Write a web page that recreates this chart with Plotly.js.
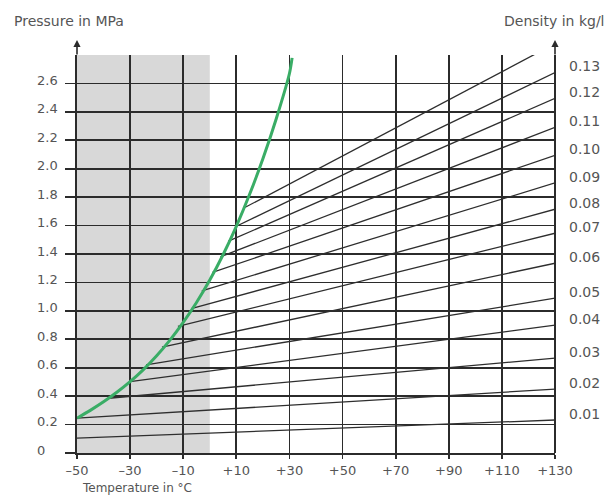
<!DOCTYPE html>
<html>
<head>
<meta charset="utf-8">
<script src="https://cdn.plot.ly/plotly-3.0.1.min.js"></script>
<style>html,body{margin:0;padding:0;background:#fff;}#chart{width:613px;height:496px;}</style>
</head>
<body>
<div id="chart"></div>
<script>
// Saturation (vapour pressure) curve
const curveT = [-50, -45, -40, -35, -30, -25, -20, -15, -10, -5, 0, 5, 10, 15, 20, 25, 30, 31];
const curveP = [0.245, 0.30, 0.36, 0.427, 0.502, 0.587, 0.684, 0.794, 0.919, 1.059, 1.217, 1.395, 1.595, 1.82, 2.07, 2.35, 2.67, 2.78];

// Isochores (density lines): start point and pressure at +130 °C
const densities = [0.01, 0.02, 0.03, 0.04, 0.05, 0.06, 0.07, 0.08, 0.09, 0.10, 0.11, 0.12, 0.13, 0.14];
const startT = [-50, -50, -38, -30, -24, -18, -12, -7, -3, 1, 4, 7, 10, 13];
const startP = [0.105, 0.245, 0.385, 0.502, 0.62, 0.745, 0.89, 1.015, 1.14, 1.27, 1.38, 1.49, 1.595, 1.725];
const endT = 130;
const endP = [0.232, 0.45, 0.668, 0.90, 1.089, 1.335, 1.546, 1.715, 1.90, 2.094, 2.291, 2.495, 2.677, 2.88];
const labelledDensities = 13; // 0.14 leaves the chart at the top

// Axes
const xTicks = [-50, -30, -10, 10, 30, 50, 70, 90, 110, 130];
const xTickText = ['–50', '–30', '–10', '+10', '+30', '+50', '+70', '+90', '+110', '+130'];
const yTicks = [0, 0.2, 0.4, 0.6, 0.8, 1.0, 1.2, 1.4, 1.6, 1.8, 2.0, 2.2, 2.4, 2.6];
const yTickText = ['0', '0.2', '0.4', '0.6', '0.8', '1.0', '1.2', '1.4', '1.6', '1.8', '2.0', '2.2', '2.4', '2.6'];
const shadeRange = [-50, 0];

const GRID = '#2b2b2b';
const TXT = '#555';
const FONT = 'DejaVu Sans, Arial, sans-serif';

const traces = [];
densities.forEach((d, i) => {
  traces.push({
    x: [startT[i], endT], y: [startP[i], endP[i]],
    mode: 'lines', type: 'scatter', hoverinfo: 'skip',
    line: {color: '#2e2e2e', width: 1.3}
  });
});
traces.push({
  x: curveT, y: curveP, mode: 'lines', type: 'scatter', hoverinfo: 'skip',
  line: {color: '#3aad66', width: 3, shape: 'spline', smoothing: 0.8}
});

const annotations = [];
yTicks.forEach((v, i) => {
  annotations.push({
    xref: 'paper', x: 0, xshift: -42, xanchor: 'left',
    yref: 'y', y: v, yshift: 3, yanchor: 'middle',
    text: yTickText[i], showarrow: false,
    font: {family: FONT, size: 13, color: TXT}
  });
});
for (let i = 0; i < labelledDensities; i++) {
  annotations.push({
    xref: 'paper', x: 1, xshift: 12, xanchor: 'left',
    yref: 'y', y: endP[i], yshift: 6, yanchor: 'middle',
    text: densities[i].toFixed(2), showarrow: false,
    font: {family: FONT, size: 14, color: TXT}
  });
}
annotations.push({
  xref: 'paper', x: 0, xshift: -65, xanchor: 'left',
  yref: 'paper', y: 1, yshift: 34, yanchor: 'middle',
  text: 'Pressure in MPa', showarrow: false,
  font: {family: FONT, size: 14, color: TXT}
});
annotations.push({
  xref: 'paper', x: 1, xshift: -53, xanchor: 'left',
  yref: 'paper', y: 1, yshift: 34, yanchor: 'middle',
  text: 'Density in kg/l', showarrow: false,
  font: {family: FONT, size: 14, color: TXT}
});
annotations.push({
  xref: 'paper', x: 0, xshift: 3, xanchor: 'left',
  yref: 'paper', y: 0, yshift: -35, yanchor: 'middle',
  text: 'Temperature in °C', showarrow: false,
  font: {family: FONT, size: 12, color: TXT}
});
// axis arrows
[0, 1].forEach(px => {
  annotations.push({
    xref: 'paper', x: px, yref: 'paper', y: 1.038,
    ax: 0, ay: 16, text: '', showarrow: true,
    arrowhead: 2, arrowsize: 0.9, arrowwidth: 1.6, arrowcolor: GRID
  });
});

const layout = {
  width: 613, height: 496,
  margin: {l: 77, r: 58, t: 55, b: 43, pad: 0},
  paper_bgcolor: '#fff', plot_bgcolor: '#fff',
  showlegend: false,
  xaxis: {
    range: [-50, 130], tickvals: xTicks, ticktext: xTickText,
    showgrid: true, gridcolor: GRID, gridwidth: 1.7,
    showline: true, linecolor: GRID, linewidth: 2,
    ticks: 'outside', ticklen: 4, tickwidth: 1.7, tickcolor: GRID,
    tickfont: {family: FONT, size: 13, color: TXT},
    zeroline: false, fixedrange: true
  },
  yaxis: {
    range: [0, 2.8], tickvals: yTicks,
    showgrid: true, gridcolor: GRID, gridwidth: 1.7,
    showline: true, linecolor: GRID, linewidth: 2,
    ticks: 'outside', ticklen: 10, tickwidth: 1.7, tickcolor: GRID,
    showticklabels: false, zeroline: false, fixedrange: true
  },
  shapes: [
    {type: 'rect', layer: 'below', xref: 'x', yref: 'paper',
     x0: shadeRange[0], x1: shadeRange[1], y0: 0, y1: 1,
     fillcolor: '#d8d8d8', line: {width: 0}},
    {type: 'line', layer: 'above', xref: 'paper', yref: 'paper',
     x0: 1, x1: 1, y0: 0, y1: 1, line: {color: GRID, width: 2}}
  ],
  annotations: annotations
};

Plotly.newPlot('chart', traces, layout, {displayModeBar: false, staticPlot: true});
</script>
</body>
</html>
